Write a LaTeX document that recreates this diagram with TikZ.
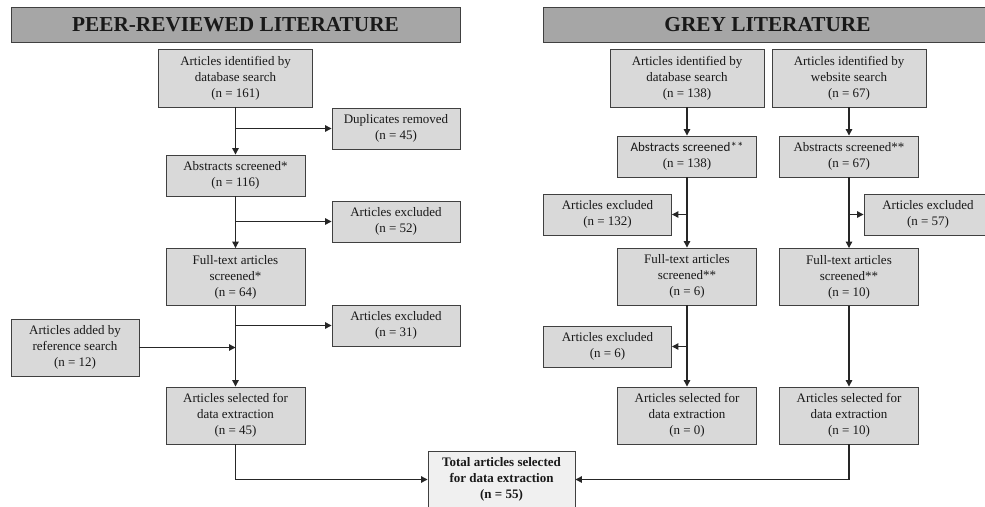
\documentclass[tikz,border=0pt]{standalone}
\usepackage{fontspec}
\setmainfont{Liberation Serif}
\newfontfamily\calibrisans{Carlito}
\usepackage{xcolor}
\usetikzlibrary{positioning,arrows.meta}
\definecolor{boxgrey}{HTML}{D9D9D9}
\definecolor{headgrey}{HTML}{A6A6A6}
\definecolor{totalgrey}{HTML}{F0F0F0}
\definecolor{edgegrey}{HTML}{404040}
\tikzset{
    prismabox/.style={draw=edgegrey, line width=0.9pt, fill=boxgrey, align=center, inner sep=0pt, text=black!90, font=\fontsize{13}{16}\selectfont},
    prismamain/.style={prismabox, minimum width=139pt},
    prismatop/.style={prismabox, minimum width=154pt, minimum height=58pt},
    prismaside/.style={prismabox, minimum width=128pt, minimum height=41pt},
    twoline/.style={minimum height=41pt},
    threeline/.style={minimum height=57pt},
    prismahead/.style={draw=edgegrey, line width=0.9pt, fill=headgrey, minimum width=449pt, minimum height=35pt, inner sep=0pt, text=black!90, font=\fontsize{21.3}{24}\selectfont\bfseries},
    prismatotal/.style={prismabox, fill=totalgrey, minimum width=147pt, minimum height=57pt, font=\fontsize{13}{16}\selectfont\bfseries},
    prismaarrow/.style={draw=black!85, line width=1.2pt, -{Triangle[length=6.5pt,width=6.5pt]}}
}

\begin{document}
\begin{tikzpicture}[x=1pt, y=-1pt]
    \useasboundingbox (0,0) rectangle (985,506);
    % peer-reviewed column
    \node[prismahead] (peerhead) at (235.5,24.5) {PEER-REVIEWED LITERATURE};
    \node[prismatop] (peerdb) at (235.5,78) {Articles identified by\\database search\\(n = 161)};
    \node[prismaside] (peerdup) at (396,128.5) {Duplicates removed\\(n = 45)};
    \node[prismamain, twoline] (peerabs) at (235.5,175.5) {Abstracts screened*\\(n = 116)};
    \node[prismaside] (peerabsexcl) at (396,221.5) {Articles excluded\\(n = 52)};
    \node[prismamain, threeline] (peerfull) at (235.5,277) {Full-text articles\\screened*\\(n = 64)};
    \node[prismaside] (peerfullexcl) at (396,325.5) {Articles excluded\\(n = 31)};
    \node[prismaside, threeline] (peerref) at (75,347.5) {Articles added by\\reference search\\(n = 12)};
    \node[prismamain, threeline] (peersel) at (235.5,415.5) {Articles selected for\\data extraction\\(n = 45)};

    % grey literature columns
    \node[prismahead] (greyhead) at (767.5,24.5) {GREY LITERATURE};
    \node[prismatop] (greydb) at (687,78) {Articles identified by\\database search\\(n = 138)};
    \node[prismatop] (greyweb) at (849,78) {Articles identified by\\website search\\(n = 67)};
    \node[prismamain, twoline] (greydbabs) at (687,156.5) {{\calibrisans Abstracts screened**}\\(n = 138)};
    \node[prismamain, twoline] (greywebabs) at (849,156.5) {Abstracts screened**\\(n = 67)};
    \node[prismaside] (greydbabsexcl) at (607.5,214.5) {Articles excluded\\(n = 132)};
    \node[prismaside] (greywebabsexcl) at (928,214.5) {Articles excluded\\(n = 57)};
    \node[prismamain, threeline] (greydbfull) at (687,276.5) {Full-text articles\\screened**\\(n = 6)};
    \node[prismamain, threeline] (greywebfull) at (849,277) {Full-text articles\\screened**\\(n = 10)};
    \node[prismaside] (greydbfullexcl) at (607.5,346.5) {Articles excluded\\(n = 6)};
    \node[prismamain, threeline] (greydbsel) at (687,415.5) {Articles selected for\\data extraction\\(n = 0)};
    \node[prismamain, threeline] (greywebsel) at (849,415.5) {Articles selected for\\data extraction\\(n = 10)};

    \node[prismatotal] (total) at (501.5,479.5) {Total articles selected\\for data extraction\\(n = 55)};

    % peer-reviewed flow
    \draw[prismaarrow] (peerdb) -- (peerabs);
    \draw[prismaarrow] (peerdb.south |- peerdup.west) -- (peerdup.west);
    \draw[prismaarrow] (peerabs) -- (peerfull);
    \draw[prismaarrow] (peerabs.south |- peerabsexcl.west) -- (peerabsexcl.west);
    \draw[prismaarrow] (peerfull) -- (peersel);
    \draw[prismaarrow] (peerfull.south |- peerfullexcl.west) -- (peerfullexcl.west);
    \draw[prismaarrow] (peerref.east) -- (peerref.east -| peerfull.south);
    \draw[prismaarrow] (peersel.south) |- (total.west);

    % grey flow
    \draw[prismaarrow] (greydb) -- (greydbabs);
    \draw[prismaarrow] (greyweb) -- (greywebabs);
    \draw[prismaarrow] (greydbabs) -- (greydbfull);
    \draw[prismaarrow] (greydbabs.south |- greydbabsexcl.east) -- (greydbabsexcl.east);
    \draw[prismaarrow] (greywebabs) -- (greywebfull);
    \draw[prismaarrow] (greywebabs.south |- greywebabsexcl.west) -- (greywebabsexcl.west);
    \draw[prismaarrow] (greydbfull) -- (greydbsel);
    \draw[prismaarrow] (greydbfull.south |- greydbfullexcl.east) -- (greydbfullexcl.east);
    \draw[prismaarrow] (greywebfull) -- (greywebsel);
    \draw[prismaarrow] (greywebsel.south) |- (total.east);
\end{tikzpicture}
\end{document}
